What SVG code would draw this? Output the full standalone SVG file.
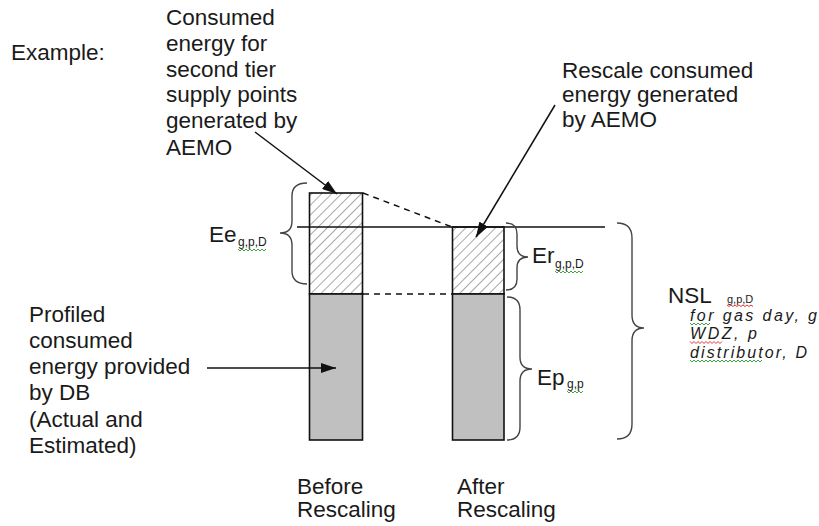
<svg xmlns="http://www.w3.org/2000/svg" width="819" height="526" viewBox="0 0 819 526">
<style>
text{font-family:"Liberation Sans",Arial,sans-serif;fill:#1a1a1a}
.t{font-size:22.5px}
.sub{font-size:12px}
.it{font-size:16px;font-style:italic}
.bar{stroke:#111;stroke-width:1.6}
.brace{fill:none;stroke:#444;stroke-width:1.4}
.ln{stroke:#111;stroke-width:1.5;fill:none}
.dash{stroke:#111;stroke-width:1.5;stroke-dasharray:6,5;fill:none}
.sqg{fill:none;stroke:#2a9d2a;stroke-width:0.9}
.sqr{fill:none;stroke:#e02020;stroke-width:0.9}
</style>
<defs>
<pattern id="hatch" patternUnits="userSpaceOnUse" width="7" height="7" patternTransform="rotate(45)">
<rect width="7" height="7" fill="#fff"/>
<line x1="0" y1="0" x2="0" y2="7" stroke="#a8a8a8" stroke-width="2"/>
</pattern>
<marker id="ah" markerWidth="16" markerHeight="10" refX="15" refY="5" orient="auto" markerUnits="userSpaceOnUse">
<path d="M0,0 L15,5 L0,10 Z" fill="#111"/>
</marker>
</defs>

<text class="t" x="11" y="60">Example:</text>

<g id="bar-before">
<rect class="bar" x="309.5" y="193" width="53" height="101" fill="url(#hatch)"/>
<rect class="bar" x="309.5" y="294" width="53" height="146" fill="#c0c0c0"/>
</g>
<g id="bar-after">
<rect class="bar" x="452.5" y="227" width="51.5" height="67" fill="url(#hatch)"/>
<rect class="bar" x="452.5" y="294" width="51.5" height="146" fill="#c0c0c0"/>
</g>

<g id="connectors">
<line class="ln" x1="297" y1="227" x2="605" y2="227"/>
<line class="dash" x1="363" y1="193" x2="452" y2="227"/>
<line class="dash" x1="363" y1="294" x2="452" y2="294"/>
<line class="ln" x1="255" y1="132" x2="337" y2="194" marker-end="url(#ah)"/>
<line class="ln" x1="555" y1="105" x2="476" y2="237" marker-end="url(#ah)"/>
<line class="ln" x1="207" y1="368" x2="336" y2="368" marker-end="url(#ah)"/>
</g>

<g id="brace-ee">
<path class="brace" d="M307,183 Q292,183 292,196 L292,221 Q292,233 280,233 Q292,233 292,245 L292,271 Q292,284 307,284"/>
<text class="t" x="209" y="242">Ee</text>
<text class="sub" x="238" y="246">g,p,D</text>
<path class="sqg" d="M238,249 l2,2 l2,-2 l2,2 l2,-2 l2,2 l2,-2 l2,2 l2,-2 l2,2 l2,-2 l2,2 l2,-2 l2,2 l2,-2"/>
</g>
<g id="brace-er">
<path class="brace" d="M506,223 Q517,223 517,234 L517,246 Q517,257 528,257 Q517,257 517,268 L517,279 Q517,290 506,290"/>
<text class="t" x="532" y="263">Er</text>
<text class="sub" x="555" y="268">g,p,D</text>
<path class="sqg" d="M555,271 l2,2 l2,-2 l2,2 l2,-2 l2,2 l2,-2 l2,2 l2,-2 l2,2 l2,-2 l2,2 l2,-2 l2,2 l2,-2"/>
</g>
<g id="brace-ep">
<path class="brace" d="M507,297 Q520,297 520,310 L520,357 Q520,369 532,369 Q520,369 520,381 L520,427 Q520,440 507,440"/>
<text class="t" x="537" y="385">Ep</text>
<text class="sub" x="567" y="388">g,p</text>
<path class="sqg" d="M567,391 l2,2 l2,-2 l2,2 l2,-2 l2,2 l2,-2 l2,2 l2,-2"/>
</g>
<g id="brace-nsl">
<path class="brace" d="M617,223 Q632,223 632,238 L632,315 Q632,328 644,328 Q632,328 632,341 L632,424 Q632,439 617,439"/>
<text class="t" x="668" y="303">NSL</text>
<text class="sub" x="727" y="303" style="font-size:11px">g,p,D</text>
<path class="sqr" d="M727,305 l2,1.5 l2,-1.5 l2,1.5 l2,-1.5 l2,1.5 l2,-1.5 l2,1.5 l2,-1.5 l2,1.5 l2,-1.5 l2,1.5 l2,-1.5 l2,1.5"/>
<text class="it" x="690" y="320.5" textLength="127" lengthAdjust="spacing">for gas day, g</text>
<path class="sqg" d="M690,323 l2,2 l2,-2 l2,2 l2,-2 l2,2 l2,-2 l2,2 l2,-2 l2,2 l2,-2"/>
<text class="it" x="690" y="339" textLength="67" lengthAdjust="spacing">WDZ, p</text>
<path class="sqr" d="M690,341.5 l2,2 l2,-2 l2,2 l2,-2 l2,2 l2,-2 l2,2 l2,-2 l2,2 l2,-2 l2,2 l2,-2 l2,2 l2,-2 l2,2 l2,-2"/>
<text class="it" x="690" y="357.5" textLength="117" lengthAdjust="spacing">distributor, D</text>
<path class="sqg" d="M690,360 l2,2 l2,-2 l2,2 l2,-2 l2,2 l2,-2 l2,2 l2,-2 l2,2 l2,-2 l2,2 l2,-2 l2,2 l2,-2 l2,2 l2,-2 l2,2 l2,-2 l2,2 l2,-2 l2,2 l2,-2 l2,2 l2,-2 l2,2 l2,-2 l2,2 l2,-2 l2,2 l2,-2 l2,2 l2,-2 l2,2 l2,-2 l2,2 l2,-2"/>
</g>

<g id="label-consumed">
<text class="t" x="166" y="25">Consumed</text>
<text class="t" x="166" y="51">energy for</text>
<text class="t" x="166" y="77">second tier</text>
<text class="t" x="166" y="102">supply points</text>
<text class="t" x="166" y="128">generated by</text>
<text class="t" x="166" y="155">AEMO</text>
</g>
<g id="label-rescale">
<text class="t" x="562" y="78">Rescale consumed</text>
<text class="t" x="562" y="102">energy generated</text>
<text class="t" x="562" y="127">by AEMO</text>
</g>
<g id="label-profiled">
<text class="t" x="29" y="322">Profiled</text>
<text class="t" x="29" y="348">consumed</text>
<text class="t" x="29" y="374">energy provided</text>
<text class="t" x="29" y="400">by DB</text>
<text class="t" x="29" y="427">(Actual and</text>
<text class="t" x="29" y="453">Estimated)</text>
</g>
<g id="label-before">
<text class="t" x="297" y="494">Before</text>
<text class="t" x="297" y="517">Rescaling</text>
</g>
<g id="label-after">
<text class="t" x="457" y="494">After</text>
<text class="t" x="457" y="517">Rescaling</text>
</g>
</svg>
